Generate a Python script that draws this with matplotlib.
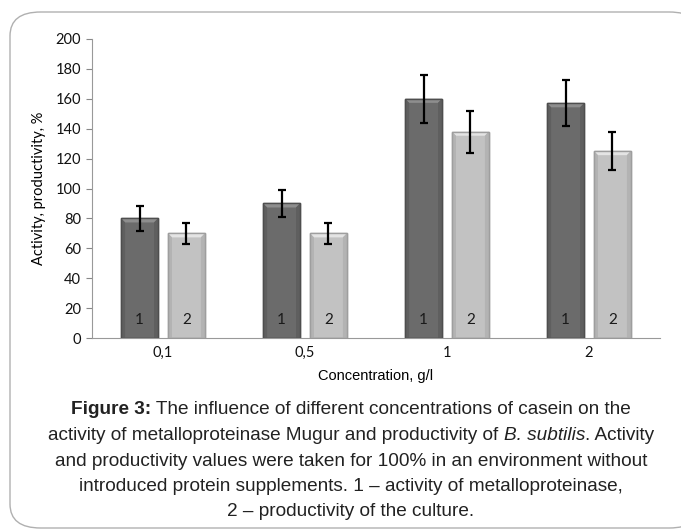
import matplotlib
matplotlib.use("Agg")
import matplotlib.pyplot as plt
import matplotlib.patches as patches
import numpy as np

categories = ["0,1", "0,5", "1", "2"]
activity = [80, 90, 160, 157]
activity_err = [8.5, 9, 16, 15.5]
productivity = [70, 70, 138, 125]
productivity_err = [7, 7, 14, 12.5]
series_labels = ["1", "2"]

fig = plt.figure(figsize=(6.81, 5.31), dpi=100)

# rounded frame around the figure
frame = patches.FancyBboxPatch(
    (10 / 681, 3 / 531), 690 / 681, 516 / 531,
    boxstyle="round,pad=0,rounding_size=0.045",
    transform=fig.transFigure, facecolor="white",
    edgecolor="#b0b0b0", linewidth=1.0, zorder=-5,
)
fig.patches.append(frame)

ax = fig.add_axes([92 / 681, 1 - 338 / 531, 568 / 681, 299 / 531])
ax.set_facecolor("none")

x = np.arange(len(categories))
w = 0.26
gap = 0.07
offsets = [-(w + gap) / 2, (w + gap) / 2]
colors = ["#6b6b6b", "#c2c2c2"]
edges = ["#4e4e4e", "#9e9e9e"]
top_col = ["#8e8e8e", "#e4e4e4"]
side_col = ["#5f5f5f", "#b3b3b3"]

# bevel size in data units (about 4 px)
bx = 0.028
by = 2.7

for k, (vals, errs) in enumerate([(activity, activity_err),
                                  (productivity, productivity_err)]):
    pos = x + offsets[k]
    bars = ax.bar(pos, vals, width=w, color=colors[k], edgecolor=edges[k],
                  linewidth=1.0, zorder=2)
    for b in bars:
        l = b.get_x()
        r = l + b.get_width()
        v = b.get_height()
        ax.fill([l, r, r - bx, l + bx], [v, v, v - by, v - by],
                color=top_col[k], lw=0, zorder=3)
        ax.fill([l, l + bx, l + bx, l], [0, 0, v - by, v],
                color=side_col[k], lw=0, zorder=3)
        ax.fill([r, r - bx, r - bx, r], [0, 0, v - by, v],
                color=side_col[k], lw=0, zorder=3)
        ax.add_patch(patches.Rectangle((l, 0), r - l, v, fill=False,
                                       edgecolor=edges[k], lw=1.0, zorder=3.5))
    ax.errorbar(pos, vals, yerr=errs, fmt="none", ecolor="black",
                elinewidth=1.6, capsize=3.2, capthick=1.6, zorder=4)
    for p in pos:
        ax.text(p, 12, series_labels[k], ha="center", va="center",
                fontsize=11, family="Lato", color="#1a1a1a", zorder=5)

ax.set_xlim(-0.5, len(categories) - 0.5)
ax.set_ylim(0, 200)
ax.set_yticks(range(0, 201, 20))
ax.set_xticks(x)
ax.set_xticklabels(categories)

for lab in ax.get_xticklabels() + ax.get_yticklabels():
    lab.set_family("Lato")
    lab.set_fontsize(10.5)
    lab.set_color("#111111")

ax.tick_params(axis="y", length=4, color="#888888", pad=4)
ax.tick_params(axis="x", length=0, pad=6)
ax.spines["top"].set_visible(False)
ax.spines["right"].set_visible(False)
ax.spines["left"].set_color("#999999")
ax.spines["bottom"].set_color("#999999")

ax.set_ylabel("Activity, productivity, %", family="Lato", fontsize=10.5,
              labelpad=7)
ax.set_xlabel("Concentration, g/l", family=["Liberation Sans Narrow", "Liberation Sans"],
              fontsize=10.5, labelpad=6)

# caption, drawn piece by piece so bold / italic runs sit inline
caption_lines = [
    [("Figure 3:", "bold", "normal"),
     (" The influence of different concentrations of casein on the", "normal", "normal")],
    [("activity of metalloproteinase Mugur and productivity of ", "normal", "normal"),
     ("B. subtilis", "normal", "italic"),
     (". Activity", "normal", "normal")],
    [("and productivity values were taken for 100% in an environment without", "normal", "normal")],
    [("introduced protein supplements. 1 \u2013 activity of metalloproteinase,", "normal", "normal")],
    [("2 \u2013 productivity of the culture.", "normal", "normal")],
]

renderer = fig.canvas.get_renderer()
cx = 351
for i, line in enumerate(caption_lines):
    y = 1 - (410 + i * 25.5) / 531
    pieces = []
    total = 0
    for txt, weight, style in line:
        t = fig.text(0, y, txt, ha="left", va="center", family="Liberation Sans",
                     fontsize=13.7, weight=weight, style=style, color="#222222")
        bb = t.get_window_extent(renderer)
        pieces.append((t, bb.width))
        total += bb.width
    xpos = cx - total / 2
    for t, wid in pieces:
        t.set_x(xpos / 681)
        xpos += wid

fig.savefig("out.png", dpi=100)
